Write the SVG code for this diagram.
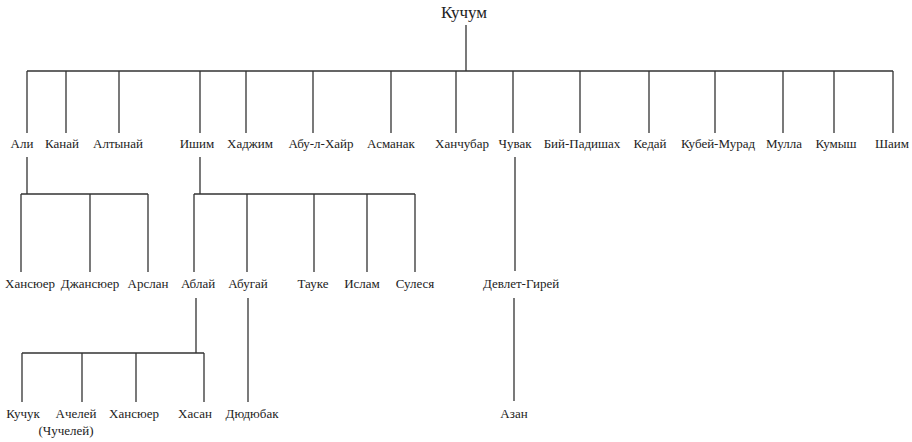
<svg xmlns="http://www.w3.org/2000/svg" width="912" height="442" viewBox="0 0 912 442">
<style>
text{font-family:"Liberation Serif","Times New Roman",serif;font-size:13px;fill:#222;text-anchor:middle}
.root{font-size:17px}
#connectors path{fill:none;stroke:#333;stroke-width:1.3}
</style>
<rect width="912" height="442" fill="#fff"/>
<g id="connectors">
<path d="M466 25V71M27 71H893"/>
<path d="M27 71V133M66 71V133M119 71V133M200 71V133M246 71V133M313 71V133M391 71V133M456 71V133M513 71V133M580 71V133M649 71V133M715 71V133M783 71V133M834 71V133M893 71V133"/>
<path d="M27 157V194M21 194H148M21 194V272M90 194V272M148 194V272"/>
<path d="M200 157V194M194 194H415M194 194V272M247 194V272M314 194V272M367 194V272M415 194V272"/>
<path d="M515 157V271M514 298V401"/>
<path d="M196 298V353M22 353H204M22 353V402M82 353V402M136 353V402M204 353V402"/>
<path d="M248 298V402"/>
</g>
<g id="n-kuchum"><text class="root" x="464" y="18">Кучум</text></g>
<g id="n-ali"><text x="22" y="148">Али</text></g>
<g id="n-kanai"><text x="62" y="148">Канай</text></g>
<g id="n-altynai"><text x="118" y="148">Алтынай</text></g>
<g id="n-ishim"><text x="197" y="148">Ишим</text></g>
<g id="n-khadzhim"><text x="250" y="148">Хаджим</text></g>
<g id="n-abulkhair"><text x="321" y="148">Абу-л-Хайр</text></g>
<g id="n-asmanak"><text x="391" y="148">Асманак</text></g>
<g id="n-khanchubar"><text x="462" y="148">Ханчубар</text></g>
<g id="n-chuvak"><text x="515" y="148">Чувак</text></g>
<g id="n-biipadishakh"><text x="582" y="148">Бий-Падишах</text></g>
<g id="n-kedai"><text x="650" y="148">Кедай</text></g>
<g id="n-kubeimurad"><text x="718" y="148">Кубей-Мурад</text></g>
<g id="n-mulla"><text x="784" y="148">Мулла</text></g>
<g id="n-kumysh"><text x="836" y="148">Кумыш</text></g>
<g id="n-shaim"><text x="892" y="148">Шаим</text></g>
<g id="n-khansyuer1"><text x="30" y="288">Хансюер</text></g>
<g id="n-dzhansyuer"><text x="90" y="288">Джансюер</text></g>
<g id="n-arslan"><text x="148" y="288">Арслан</text></g>
<g id="n-ablai"><text x="198" y="288">Аблай</text></g>
<g id="n-abugai"><text x="248" y="288">Абугай</text></g>
<g id="n-tauke"><text x="313" y="288">Тауке</text></g>
<g id="n-islam"><text x="362" y="288">Ислам</text></g>
<g id="n-sulesya"><text x="415" y="288">Сулеся</text></g>
<g id="n-devletgirei"><text x="521" y="288">Девлет-Гирей</text></g>
<g id="n-kuchuk"><text x="23" y="418">Кучук</text></g>
<g id="n-acheley"><text x="76" y="418">Ачелей</text><text x="66" y="435">(Чучелей)</text></g>
<g id="n-khansyuer2"><text x="134" y="418">Хансюер</text></g>
<g id="n-khasan"><text x="195" y="418">Хасан</text></g>
<g id="n-dyudyubak"><text x="252" y="418">Дюдюбак</text></g>
<g id="n-azan"><text x="514" y="418">Азан</text></g>
</svg>
